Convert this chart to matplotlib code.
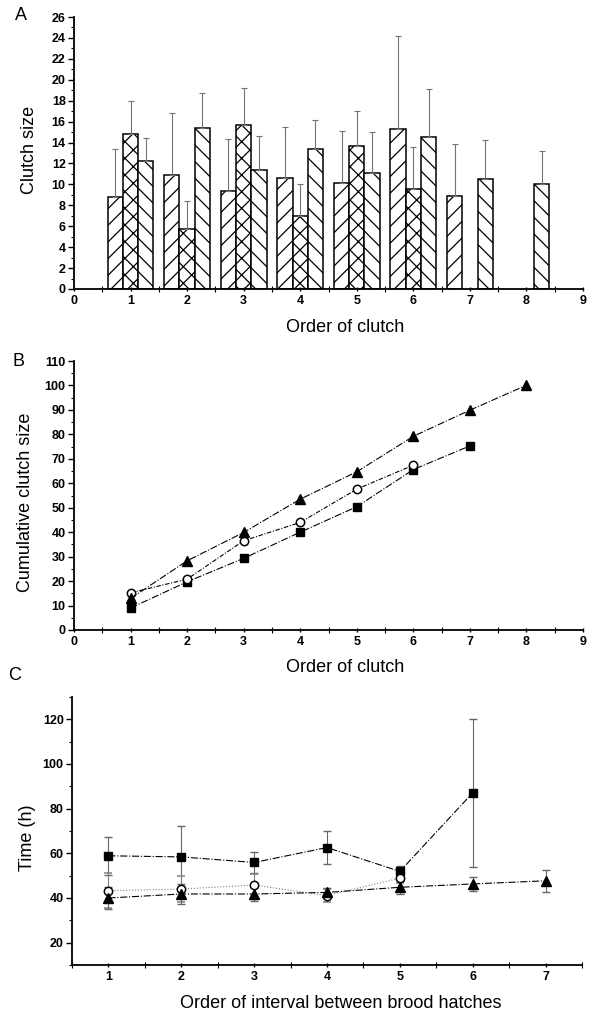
import matplotlib.pyplot as plt
import numpy as np
from matplotlib.ticker import MultipleLocator

plt.rcParams['font.family'] = ['Liberation Sans', 'DejaVu Sans']
plt.rcParams['hatch.linewidth'] = 0.9

# A: clutch size for each clutch order, three groups (/, x, \ hatches)
order_g1 = [1, 2, 3, 4, 5, 6, 7]
size_g1 = [8.8, 10.9, 9.35, 10.6, 10.1, 15.3, 8.9]
err_g1 = [4.6, 5.9, 4.95, 4.9, 5.0, 8.9, 5.0]
order_g2 = [1, 2, 3, 4, 5, 6]
size_g2 = [14.8, 5.75, 15.7, 7.0, 13.7, 9.6]
err_g2 = [3.2, 2.65, 3.5, 3.05, 3.3, 4.0]
order_g3 = [1, 2, 3, 4, 5, 6, 7, 8]
size_g3 = [12.25, 15.35, 11.4, 13.4, 11.05, 14.55, 10.5, 10.0]
err_g3 = [2.15, 3.35, 3.2, 2.8, 4.0, 4.55, 3.7, 3.2]

# B: cumulative clutch size
order_sq = [1, 2, 3, 4, 5, 6, 7]
cum_sq = [9.0, 19.7, 29.3, 40.0, 50.4, 65.6, 75.3]
order_ci = [1, 2, 3, 4, 5, 6]
cum_ci = [15.2, 20.8, 36.5, 44.0, 57.6, 67.4]
order_tr = [1, 2, 3, 4, 5, 6, 7, 8]
cum_tr = [12.9, 28.3, 39.9, 53.5, 64.7, 79.2, 89.9, 100.1]

# C: interval between brood hatches (h)
int_sq = [1, 2, 3, 4, 5, 6]
time_sq = [58.9, 58.4, 55.9, 62.6, 51.9, 87.1]
terr_sq = [8.6, 13.8, 4.9, 7.4, 2.4, 33.0]
int_ci = [1, 2, 3, 4, 5]
time_ci = [43.3, 44.0, 45.8, 41.1, 48.9]
terr_ci = [8.0, 6.0, 5.0, 3.0, 2.0]
int_tr = [1, 2, 3, 4, 5, 6, 7]
time_tr = [40.0, 41.8, 41.8, 42.5, 44.8, 46.3, 47.7]
terr_tr = [5.0, 4.5, 3.0, 2.0, 3.0, 3.0, 5.0]

W, H = 593, 1016
fig = plt.figure(figsize=(W / 100, H / 100), dpi=100)


def add_axes(left, top, right, bottom):
    return fig.add_axes([left / W, 1 - bottom / H, (right - left) / W, (bottom - top) / H])


def style(ax):
    for s in ['top', 'right']:
        ax.spines[s].set_visible(False)
    for s in ['left', 'bottom']:
        ax.spines[s].set_linewidth(1.3)
    ax.tick_params(axis='y', which='major', direction='out', length=4, width=1, pad=2, labelsize=9)
    ax.tick_params(axis='y', which='minor', direction='out', length=2, width=0.8)
    ax.tick_params(axis='x', which='major', direction='inout', length=3, width=1, pad=3, labelsize=9)
    ax.tick_params(axis='x', which='minor', direction='inout', length=4, width=0.8)
    for lab in ax.get_xticklabels() + ax.get_yticklabels():
        lab.set_fontweight('bold')


def ftext(x, y, s, **kw):
    fig.text(x / W, 1 - y / H, s, ha='center', va='center', **kw)


# ---- panel A
ax = add_axes(74, 17, 583, 289)
bw = 0.27
ekw = dict(ecolor='0.45', elinewidth=0.8, capsize=2.5, capthick=0.8)
ax.bar(np.array(order_g1) - bw, size_g1, bw, yerr=[np.zeros(len(err_g1)), err_g1],
       color='white', edgecolor='black', linewidth=1.1, hatch='//', error_kw=ekw)
ax.bar(order_g2, size_g2, bw, yerr=[np.zeros(len(err_g2)), err_g2],
       color='white', edgecolor='black', linewidth=1.1, hatch='xx', error_kw=ekw)
ax.bar(np.array(order_g3) + bw, size_g3, bw, yerr=[np.zeros(len(err_g3)), err_g3],
       color='white', edgecolor='black', linewidth=1.1, hatch='\\\\', error_kw=ekw)
ax.set_xlim(0, 9)
ax.set_ylim(0, 26)
ax.set_xticks(range(0, 10))
ax.set_yticks(range(0, 27, 2))
ax.xaxis.set_minor_locator(MultipleLocator(0.5))
ax.yaxis.set_minor_locator(MultipleLocator(1))
style(ax)
ftext(21, 16, 'A', fontsize=13)
ftext(30, 150, 'Clutch size', fontsize=13, rotation=90)
ftext(345, 328, 'Order of clutch', fontsize=13)

# ---- panel B
ax = add_axes(74, 361, 583, 630)
lkw = dict(color='black', linewidth=0.8)
ax.plot(order_sq, cum_sq, linestyle='-.', marker='s', markersize=6, **lkw)
ax.plot(order_ci, cum_ci, linestyle=(0, (4, 1.5, 1, 1.5)), marker='o', markersize=6,
        markerfacecolor='white', markeredgewidth=1.1, **lkw)
ax.plot(order_tr, cum_tr, linestyle='-.', marker='^', markersize=6.5, **lkw)
ax.set_xlim(0, 9)
ax.set_ylim(0, 110)
ax.set_xticks(range(0, 10))
ax.set_yticks(range(0, 111, 10))
ax.xaxis.set_minor_locator(MultipleLocator(0.5))
ax.yaxis.set_minor_locator(MultipleLocator(5))
style(ax)
ftext(19, 362, 'B', fontsize=13)
ftext(26, 502, 'Cumulative clutch size', fontsize=13, rotation=90)
ftext(345, 668, 'Order of clutch', fontsize=13)

# ---- panel C
ax = add_axes(72, 697, 582, 965)
ax.errorbar(int_sq, time_sq, yerr=terr_sq, linestyle='-.', marker='s', markersize=6,
            ecolor='0.4', elinewidth=0.8, capsize=3, **lkw)
ax.errorbar(int_ci, time_ci, yerr=terr_ci, linestyle=':', marker='o', markersize=6,
            markerfacecolor='white', markeredgewidth=1.1, ecolor='0.5', elinewidth=0.8,
            capsize=3, color='0.5', linewidth=0.8, markeredgecolor='black')
ax.errorbar(int_tr, time_tr, yerr=terr_tr, linestyle='-.', marker='^', markersize=6.5,
            ecolor='0.4', elinewidth=0.8, capsize=3, **lkw)
ax.set_xlim(0.5, 7.5)
ax.set_ylim(10, 130)
ax.set_xticks(range(1, 8))
ax.set_yticks(range(20, 121, 20))
ax.xaxis.set_minor_locator(MultipleLocator(0.5))
ax.yaxis.set_minor_locator(MultipleLocator(10))
style(ax)
ftext(15, 676, 'C', fontsize=13)
ftext(27, 838, 'Time (h)', fontsize=13, rotation=90)
ftext(341, 1003, 'Order of interval between brood hatches', fontsize=13)

fig.savefig('out.png', dpi=100)
